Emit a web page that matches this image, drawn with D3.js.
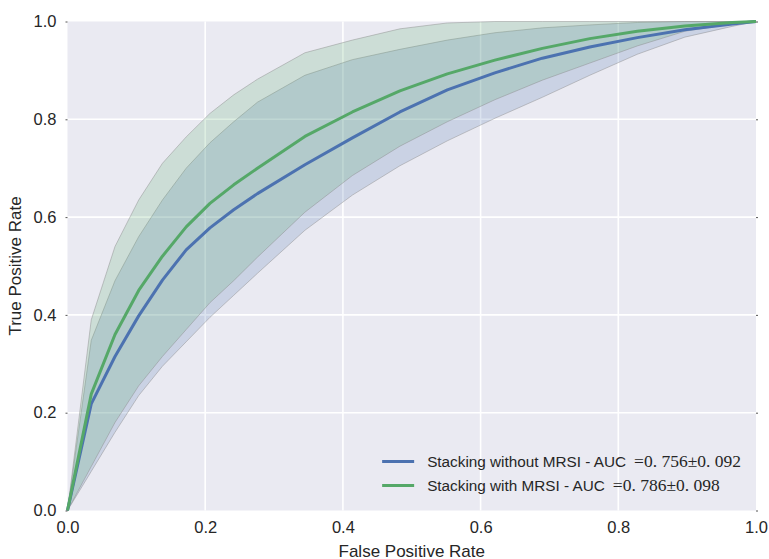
<!DOCTYPE html>
<html>
<head>
<meta charset="utf-8">
<script src="https://cdnjs.cloudflare.com/ajax/libs/d3/7.8.5/d3.min.js"></script>
<style>
	body { margin: 0; background: #fff; }
	text { font-family: "Liberation Sans", Arial, sans-serif; fill: #262626; }
	.math { font-family: "Liberation Serif", "DejaVu Serif", serif; }
</style>
</head>
<body>
<div id="chart"></div>
<script>
// mean ROC on a shared fpr grid, with +/- 1 std bands
var fpr = [0, 0.0345, 0.069, 0.1034, 0.1379, 0.1724, 0.2069, 0.2414, 0.2759, 0.3448, 0.4138, 0.4828, 0.5517, 0.6207, 0.6897, 0.7586, 0.8276, 0.8966, 0.9655, 1]

var tprNoMrsi      = [0, 0.218, 0.315, 0.398, 0.471, 0.533, 0.578, 0.615, 0.648, 0.707, 0.762, 0.815, 0.86, 0.895, 0.925, 0.948, 0.967, 0.983, 0.995, 1]
var tprNoMrsiUpper = [0, 0.348, 0.47, 0.56, 0.635, 0.70, 0.752, 0.795, 0.835, 0.89, 0.922, 0.943, 0.962, 0.977, 0.987, 0.993, 0.998, 1, 1, 1]
var tprNoMrsiLower = [0, 0.08, 0.16, 0.235, 0.295, 0.345, 0.395, 0.44, 0.485, 0.573, 0.645, 0.705, 0.756, 0.802, 0.845, 0.89, 0.933, 0.968, 0.99, 1]

var tprMrsi      = [0, 0.238, 0.36, 0.45, 0.52, 0.58, 0.628, 0.666, 0.70, 0.765, 0.815, 0.858, 0.893, 0.921, 0.945, 0.965, 0.98, 0.991, 0.998, 1]
var tprMrsiUpper = [0, 0.39, 0.54, 0.635, 0.71, 0.764, 0.812, 0.85, 0.882, 0.936, 0.962, 0.985, 0.997, 1, 1, 1, 1, 1, 1, 1]
var tprMrsiLower = [0, 0.09, 0.18, 0.255, 0.315, 0.37, 0.425, 0.47, 0.518, 0.61, 0.685, 0.745, 0.795, 0.84, 0.88, 0.915, 0.95, 0.98, 0.995, 1]

var seriesNames = ["Stacking without MRSI - AUC", "Stacking with MRSI - AUC"]
var seriesAuc = ["=0. 756\u00b10. 092", "=0. 786\u00b10. 098"]
var seriesColors = ["#4C72B0", "#55A868"]

var xTicks = [0, 0.2, 0.4, 0.6, 0.8, 1.0]
var yTicks = [0, 0.2, 0.4, 0.6, 0.8, 1.0]

var margin = { top: 21.5, left: 67.5, right: 13, bottom: 48.5 }
var width = 769 - margin.left - margin.right
var height = 559 - margin.top - margin.bottom

var svg = d3.select("#chart")
	.append("svg")
	.attr("width", 769)
	.attr("height", 559)
	.append("g")
	.attr("transform", "translate(" + margin.left + "," + margin.top + ")")

var x = d3.scaleLinear().domain([0, 1]).range([0, width])
var y = d3.scaleLinear().domain([0, 1]).range([height, 0])

svg.append("rect")
	.attr("width", width)
	.attr("height", height)
	.attr("fill", "#EAEAF2")

// grid
svg.selectAll(".gx").data(xTicks.slice(1, -1)).enter().append("line")
	.attr("x1", d => x(d)).attr("x2", d => x(d))
	.attr("y1", 0).attr("y2", height)
	.attr("stroke", "#fff").attr("stroke-width", 1.6)
svg.selectAll(".gy").data(yTicks.slice(1, -1)).enter().append("line")
	.attr("y1", d => y(d)).attr("y2", d => y(d))
	.attr("x1", 0).attr("x2", width)
	.attr("stroke", "#fff").attr("stroke-width", 1.6)

var bands = [
	{ lo: tprNoMrsiLower, hi: tprNoMrsiUpper, color: seriesColors[0] },
	{ lo: tprMrsiLower, hi: tprMrsiUpper, color: seriesColors[1] }
]

var area = d3.area()
	.x((d, i) => x(fpr[i]))
	.y0(d => y(d[0]))
	.y1(d => y(d[1]))

bands.forEach(function(b) {
	var pts = b.lo.map((v, i) => [v, b.hi[i]])
	svg.append("path")
		.attr("d", area(pts))
		.attr("fill", b.color)
		.attr("fill-opacity", 0.2)
		.attr("stroke", "#8a8a8a")
		.attr("stroke-opacity", 0.45)
		.attr("stroke-width", 1)
})

var line = d3.line()
	.x((d, i) => x(fpr[i]))
	.y(d => y(d))

;[tprNoMrsi, tprMrsi].forEach(function(s, k) {
	svg.append("path")
		.attr("d", line(s))
		.attr("fill", "none")
		.attr("stroke", seriesColors[k])
		.attr("stroke-width", 3)
		.attr("stroke-linejoin", "round")
})

// axes
var xAxis = svg.append("g")
	.attr("transform", "translate(0," + height + ")")
	.call(d3.axisBottom(x).tickValues(xTicks).tickFormat(d3.format(".1f")).tickSize(0).tickPadding(11))
var yAxis = svg.append("g")
	.call(d3.axisLeft(y).tickValues(yTicks).tickFormat(d3.format(".1f")).tickSize(2).tickPadding(9))
svg.append("g")
	.attr("transform", "translate(" + width + ",0)")
	.call(d3.axisRight(y).tickValues(yTicks).tickFormat("").tickSize(2))

svg.selectAll(".domain").remove()
svg.selectAll(".tick line").attr("stroke", "#555")
xAxis.selectAll("text").attr("font-size", 16.5).attr("font-family", null)
yAxis.selectAll("text").attr("font-size", 16.5).attr("font-family", null)

svg.append("text")
	.attr("x", width / 2)
	.attr("y", height + 46)
	.attr("text-anchor", "middle")
	.attr("font-size", 17)
	.text("False Positive Rate")

svg.append("text")
	.attr("transform", "translate(" + (-47) + "," + (height / 2) + ") rotate(-90)")
	.attr("text-anchor", "middle")
	.attr("font-size", 17)
	.text("True Positive Rate")

// legend
var legend = svg.append("g")
	.attr("transform", "translate(" + (x(0.457)) + "," + (y(0.1)) + ")")

seriesNames.forEach(function(name, i) {
	var row = legend.append("g").attr("transform", "translate(0," + (i * 24) + ")")
	row.append("line")
		.attr("x1", 0).attr("x2", 32)
		.attr("y1", 0).attr("y2", 0)
		.attr("stroke", seriesColors[i])
		.attr("stroke-width", 3)
	var t = row.append("text")
		.attr("x", 45)
		.attr("y", 5.5)
		.attr("font-size", 15.3)
	t.append("tspan").text(name)
	t.append("tspan").attr("class", "math").attr("dx", 8).attr("font-size", 17.5).text(seriesAuc[i])
})
</script>
</body>
</html>
